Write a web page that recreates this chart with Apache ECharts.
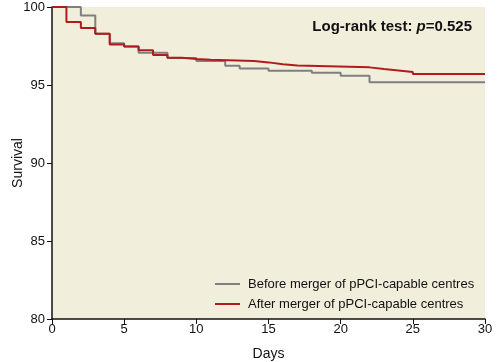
<!DOCTYPE html>
<html>
<head>
<meta charset="utf-8">
<script src="https://cdn.jsdelivr.net/npm/echarts@6/dist/echarts.min.js"></script>
<style>
html,body{margin:0;padding:0;background:#fff;}
#chart{width:502px;height:362px;}
</style>
</head>
<body>
<div id="chart"></div>
<script>
// Kaplan-Meier step points: [day, survival %]
const seriesNames = ['Before merger of pPCI-capable centres', 'After merger of pPCI-capable centres'];
const beforeDays = [0, 2, 3, 4, 5, 6, 8, 10, 12, 13, 15, 18, 20, 22, 30];
const beforeSurv = [100, 99.45, 98.29, 97.68, 97.47, 97.07, 96.73, 96.54, 96.24, 96.06, 95.92, 95.79, 95.59, 95.18, 95.18];
const afterDays = [0, 1, 2, 3, 4, 5, 6, 7, 8, 9, 10, 11, 14, 15, 16, 17, 22, 23, 24, 25, 30];
const afterSurv = [100, 99.04, 98.66, 98.29, 97.6, 97.47, 97.22, 96.93, 96.75, 96.66, 96.62, 96.54, 96.45, 96.33, 96.25, 96.13, 96.02, 95.93, 95.84, 95.7, 95.7];
const xTicks = [0, 5, 10, 15, 20, 25, 30];
const yTicks = [80, 85, 90, 95, 100];
const titleText = 'Log-rank test: ';
const pText = 'p';
const pValue = '=0.525';

const pair = (xs, ys) => xs.map((x, i) => [x, ys[i]]);
const sans = '"Liberation Sans", Arial, sans-serif';
const chart = echarts.init(document.getElementById('chart'), null, {renderer: 'canvas'});
chart.setOption({
  animation: false,
  backgroundColor: '#ffffff',
  title: {
    text: '{b|' + titleText + '}{i|' + pText + '}{b|' + pValue + '}',
    right: 25,
    top: 14,
    textStyle: {
      rich: {
        b: {fontFamily: sans, fontWeight: 'bold', fontSize: 15, color: '#111'},
        i: {fontFamily: sans, fontWeight: 'bold', fontStyle: 'italic', fontSize: 15, color: '#111'}
      }
    }
  },
  legend: {
    orient: 'vertical',
    left: 210,
    top: 272,
    icon: 'rect',
    itemWidth: 25,
    itemHeight: 2,
    itemGap: 6,
    textStyle: {fontFamily: sans, fontSize: 13, color: '#111', padding: [0, 0, 0, 3], lineHeight: 14},
    data: seriesNames
  },
  grid: {
    left: 52, right: 17, top: 7, bottom: 43,
    outerBoundsMode: 'none',
    containLabel: false,
    show: true,
    backgroundColor: '#f2eedc',
    borderWidth: 0
  },
  xAxis: {
    type: 'value',
    min: xTicks[0], max: xTicks[xTicks.length - 1], interval: 5,
    name: 'Days',
    nameLocation: 'middle',
    nameGap: 28,
    nameMoveOverlap: false,
    nameTextStyle: {fontFamily: sans, fontSize: 14, color: '#111'},
    axisLine: {lineStyle: {color: '#111', width: 1.5}},
    axisTick: {show: true, length: 5, lineStyle: {color: '#111'}},
    axisLabel: {margin: 4, fontFamily: sans, fontSize: 13, color: '#111'},
    splitLine: {show: false}
  },
  yAxis: {
    type: 'value',
    min: yTicks[0], max: yTicks[yTicks.length - 1], interval: 5,
    name: 'Survival',
    nameLocation: 'middle',
    nameGap: 27,
    nameMoveOverlap: false,
    nameTextStyle: {fontFamily: sans, fontSize: 14, color: '#111'},
    axisLine: {show: true, lineStyle: {color: '#111', width: 1.5}},
    axisTick: {show: true, length: 5, lineStyle: {color: '#111'}},
    axisLabel: {margin: 7, fontFamily: sans, fontSize: 13, color: '#111'},
    splitLine: {show: false}
  },
  series: [
    {
      name: seriesNames[0],
      type: 'line',
      step: 'end',
      symbol: 'none',
      data: pair(beforeDays, beforeSurv),
      lineStyle: {color: '#7f7f7f', width: 2},
      itemStyle: {color: '#7f7f7f'}
    },
    {
      name: seriesNames[1],
      type: 'line',
      step: 'end',
      symbol: 'none',
      data: pair(afterDays, afterSurv),
      lineStyle: {color: '#b01c1c', width: 2},
      itemStyle: {color: '#b01c1c'}
    }
  ]
});
</script>
</body>
</html>
